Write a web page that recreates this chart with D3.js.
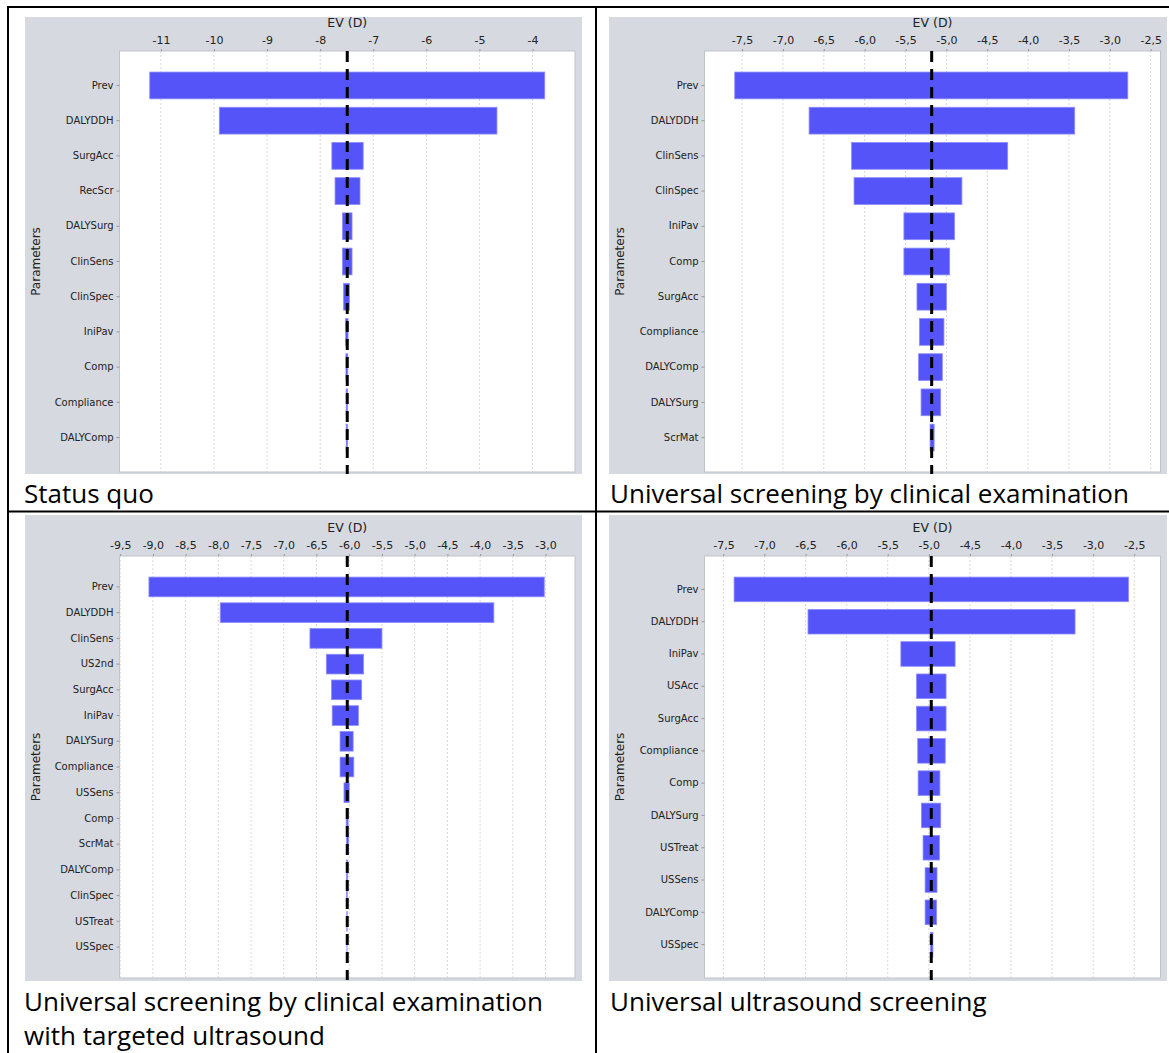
<!DOCTYPE html>
<html>
<head>
<meta charset="utf-8">
<script src="https://cdn.jsdelivr.net/npm/d3@7"></script>
<style>
body { margin: 0; background: #fff; }
svg text { font-family: "DejaVu Sans", sans-serif; }
</style>
</head>
<body>
<svg id="fig" width="1169" height="1053"></svg>
<script>
// ---- data ----

// Status quo
var sqParams = ["Prev", "DALYDDH", "SurgAcc", "RecScr", "DALYSurg", "ClinSens", "ClinSpec", "IniPav", "Comp", "Compliance", "DALYComp"];
var sqLow = [-11.21, -9.90, -7.78, -7.72, -7.58, -7.58, -7.56, -7.52, -7.515, -7.51, -7.51];
var sqHigh = [-3.77, -4.67, -7.19, -7.25, -7.40, -7.40, -7.45, -7.475, -7.48, -7.485, -7.485];
var sqBase = -7.49;
var sqTicks = [-11, -10, -9, -8, -7, -6, -5, -4];

// Universal screening by clinical examination
var ceParams = ["Prev", "DALYDDH", "ClinSens", "ClinSpec", "IniPav", "Comp", "SurgAcc", "Compliance", "DALYComp", "DALYSurg", "ScrMat"];
var ceLow = [-7.59, -6.68, -6.16, -6.13, -5.52, -5.52, -5.36, -5.33, -5.34, -5.31, -5.20];
var ceHigh = [-2.78, -3.43, -4.25, -4.81, -4.90, -4.96, -5.00, -5.03, -5.05, -5.07, -5.15];
var ceBase = -5.18;
var ceTicks = [-7.5, -7.0, -6.5, -6.0, -5.5, -5.0, -4.5, -4.0, -3.5, -3.0, -2.5];

// Clinical examination with targeted ultrasound
var tuParams = ["Prev", "DALYDDH", "ClinSens", "US2nd", "SurgAcc", "IniPav", "DALYSurg", "Compliance", "USSens", "Comp", "ScrMat", "DALYComp", "ClinSpec", "USTreat", "USSpec"];
var tuLow = [-9.06, -7.97, -6.60, -6.35, -6.27, -6.26, -6.14, -6.14, -6.08, -6.046, -6.04, -6.04, -6.04, -6.037, -6.035];
var tuHigh = [-3.02, -3.79, -5.50, -5.78, -5.81, -5.86, -5.94, -5.93, -6.00, -6.017, -6.01, -6.023, -6.03, -6.031, -6.033];
var tuBase = -6.03;
var tuTicks = [-9.5, -9.0, -8.5, -8.0, -7.5, -7.0, -6.5, -6.0, -5.5, -5.0, -4.5, -4.0, -3.5, -3.0];

// Universal ultrasound screening
var usParams = ["Prev", "DALYDDH", "IniPav", "USAcc", "SurgAcc", "Compliance", "Comp", "DALYSurg", "USTreat", "USSens", "DALYComp", "USSpec"];
var usLow = [-7.37, -6.47, -5.34, -5.15, -5.15, -5.135, -5.13, -5.09, -5.07, -5.045, -5.045, -4.98];
var usHigh = [-2.57, -3.22, -4.68, -4.79, -4.79, -4.80, -4.865, -4.855, -4.87, -4.90, -4.905, -4.95];
var usBase = -4.97;
var usTicks = [-7.5, -7.0, -6.5, -6.0, -5.5, -5.0, -4.5, -4.0, -3.5, -3.0, -2.5];

var titles = [
    ["Status quo"],
    ["Universal screening by clinical examination"],
    ["Universal screening by clinical examination", "with targeted ultrasound"],
    ["Universal ultrasound screening"]
];

// ---- formats ----
var fmtInt = function(d) { return d3.format("d")(d).replace("\u2212", "-"); };
var commaLocale = d3.formatLocale({decimal: ",", thousands: ".", grouping: [3], currency: ["", ""], minus: "-"});
var fmtHalf = commaLocale.format(".1f");

var svg = d3.select("#fig");

// table lines
var frame = [
    [8, 7, 1169, 7],
    [8, 6, 8, 1053],
    [596, 6, 596, 1053],
    [8, 511.5, 1169, 511.5]
];
svg.selectAll(".frame").data(frame).enter()
    .append("line")
    .attr("x1", function(d) { return d[0]; })
    .attr("y1", function(d) { return d[1]; })
    .attr("x2", function(d) { return d[2]; })
    .attr("y2", function(d) { return d[3]; })
    .attr("stroke", "#000")
    .attr("stroke-width", 2);

// caption size: the long caption spans about 519px in the original
var probe = svg.append("text")
    .style("font-family", "'Open Sans', sans-serif")
    .style("font-size", "24px")
    .text(titles[1][0]);
var captionSize = 24 * 519 / probe.node().getComputedTextLength();
probe.remove();

// panel layout: gray background box, plot box, title position
var panels = [
    {params: sqParams, low: sqLow, high: sqHigh, base: sqBase, ticks: sqTicks, fmt: fmtInt,
     domain: [-11.78, -3.20], bg: [25, 17, 582, 474], plot: [119.5, 51, 575, 472], title: titles[0], tx: 24, ty: 503},
    {params: ceParams, low: ceLow, high: ceHigh, base: ceBase, ticks: ceTicks, fmt: fmtHalf,
     domain: [-7.96, -2.38], bg: [609, 17, 1167, 474], plot: [704.5, 51, 1160.5, 472], title: titles[1], tx: 610, ty: 503},
    {params: tuParams, low: tuLow, high: tuHigh, base: tuBase, ticks: tuTicks, fmt: fmtHalf,
     domain: [-9.51, -2.55], bg: [25, 515, 582, 981], plot: [119.5, 556, 575, 978], title: titles[2], tx: 24, ty: 1010.5},
    {params: usParams, low: usLow, high: usHigh, base: usBase, ticks: usTicks, fmt: fmtHalf,
     domain: [-7.73, -2.18], bg: [609, 515, 1167, 981], plot: [704.5, 556, 1160.5, 978], title: titles[3], tx: 610, ty: 1010.5}
];

function drawPanel(p) {
    var g = svg.append("g");
    var left = p.plot[0], top = p.plot[1], right = p.plot[2], bottom = p.plot[3];

    g.append("rect")
        .attr("x", p.bg[0]).attr("y", p.bg[1])
        .attr("width", p.bg[2] - p.bg[0]).attr("height", p.bg[3] - p.bg[1])
        .attr("fill", "#d6d9df");

    var x = d3.scaleLinear().domain(p.domain).range([left, right]);

    // category spacing like the original: 5% margins, 20% category gap
    var n = p.params.length, L = bottom - top;
    var band = L * 0.7 / n, gap = L * 0.2 / (n - 1), step = band + gap;
    var y = d3.scaleBand()
        .domain(p.params)
        .range([top, bottom])
        .paddingInner(gap / step)
        .paddingOuter(L * 0.05 / step);

    g.append("rect")
        .attr("x", left).attr("y", top)
        .attr("width", right - left).attr("height", bottom - top)
        .attr("fill", "#fff")
        .attr("stroke", "#bfc3ca")
        .attr("stroke-width", 1);

    // grid
    g.selectAll(".grid").data(p.ticks).enter()
        .append("line")
        .attr("x1", function(d) { return x(d); })
        .attr("x2", function(d) { return x(d); })
        .attr("y1", top)
        .attr("y2", bottom)
        .attr("stroke", "#cfcfcf")
        .attr("stroke-width", 0.8)
        .attr("stroke-dasharray", "2,2");

    // top value axis
    var ax = g.append("g")
        .attr("transform", "translate(0," + top + ")")
        .call(d3.axisTop(x).tickValues(p.ticks).tickFormat(p.fmt).tickSize(2).tickPadding(5));
    ax.select(".domain").remove();
    ax.selectAll("line").attr("stroke", "#999");
    ax.selectAll("text")
        .attr("fill", "#222")
        .style("font-size", "11px");

    // left category axis
    var ay = g.append("g")
        .attr("transform", "translate(" + left + ",0)")
        .call(d3.axisLeft(y).tickSize(3).tickPadding(3));
    ay.select(".domain").remove();
    ay.selectAll("line").attr("stroke", "#999");
    ay.selectAll("text")
        .attr("fill", "#222")
        .style("font-size", "10px");

    // bars
    g.selectAll(".bar").data(p.params).enter()
        .append("rect")
        .attr("x", function(d, i) { return x(p.low[i]); })
        .attr("width", function(d, i) { return x(p.high[i]) - x(p.low[i]); })
        .attr("y", function(d) { return y(d); })
        .attr("height", y.bandwidth())
        .attr("fill", "#5454f8")
        .attr("stroke", "#8d8dff")
        .attr("stroke-width", 0.8);

    // expected value line
    g.append("line")
        .attr("x1", x(p.base)).attr("x2", x(p.base))
        .attr("y1", top).attr("y2", bottom + 2)
        .attr("stroke", "#000")
        .attr("stroke-width", 3)
        .attr("stroke-dasharray", "11,7");

    // axis titles
    g.append("text")
        .attr("x", (left + right) / 2)
        .attr("y", top - 24)
        .attr("text-anchor", "middle")
        .attr("fill", "#222")
        .style("font-size", "12.5px")
        .text("EV (D)");

    g.append("text")
        .attr("transform", "translate(" + (p.bg[0] + 15) + "," + ((top + bottom) / 2) + ") rotate(-90)")
        .attr("text-anchor", "middle")
        .attr("fill", "#222")
        .style("font-size", "12px")
        .text("Parameters");

    // panel caption
    var t = svg.append("text")
        .attr("x", p.tx)
        .attr("y", p.ty)
        .attr("fill", "#000")
        .style("font-family", "'Open Sans', sans-serif")
        .style("font-size", captionSize + "px");
    t.selectAll("tspan").data(p.title).enter()
        .append("tspan")
        .attr("x", p.tx)
        .attr("dy", function(d, i) { return i === 0 ? 0 : 34.5; })
        .text(function(d) { return d; });
}

panels.forEach(drawPanel);
</script>
</body>
</html>
